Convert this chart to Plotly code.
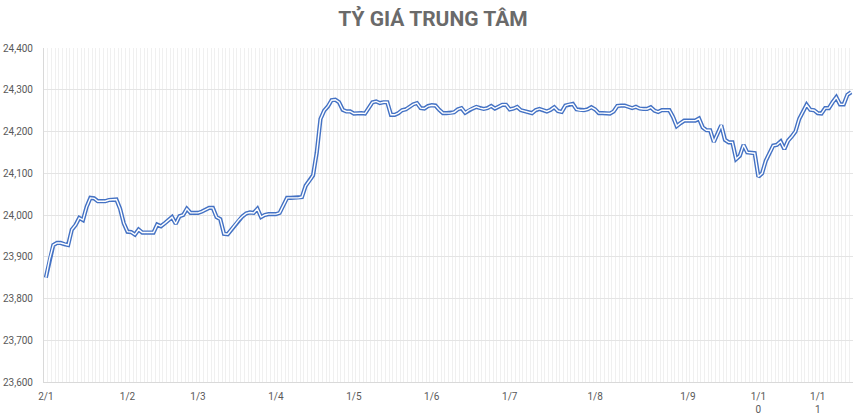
import plotly.graph_objects as go

rates = [
    23850, 23895, 23928, 23933, 23933, 23930, 23928, 23965, 23976, 23993,
    23988, 24020, 24041, 24040, 24033, 24033, 24033, 24036, 24037, 24037,
    24015, 23980, 23960, 23959, 23953, 23965, 23958, 23958, 23958, 23958,
    23977, 23973, 23980, 23988, 23995, 23979, 23997, 24000, 24015, 24005,
    24005, 24005, 24008, 24013, 24017, 24017, 23995, 23990, 23955, 23954,
    23965, 23978, 23988, 23997, 24004, 24006, 24005, 24015, 23995, 24000,
    24002, 24002, 24002, 24005, 24025, 24041, 24041, 24041, 24041, 24043,
    24070, 24082, 24095, 24150, 24230, 24250, 24260, 24275, 24276, 24270,
    24252, 24248, 24248, 24243, 24244, 24244, 24243, 24255, 24270, 24272,
    24268, 24270, 24270, 24240, 24240, 24244, 24251, 24253, 24260, 24265,
    24268, 24256, 24255, 24261, 24263, 24262, 24252, 24244, 24244, 24244,
    24246, 24253, 24256, 24245, 24251, 24255, 24259, 24256, 24254, 24256,
    24261, 24255, 24260, 24264, 24264, 24253, 24255, 24259, 24251, 24249,
    24246, 24244, 24251, 24254, 24251, 24248, 24252, 24258, 24249, 24247,
    24262, 24265, 24266, 24253, 24251, 24251, 24253, 24258, 24253, 24244,
    24244, 24243, 24243, 24248, 24261, 24262, 24262, 24259, 24256, 24259,
    24255, 24254, 24254, 24258, 24250, 24247, 24251, 24251, 24251, 24235,
    24213, 24220, 24226, 24226, 24226, 24226, 24231, 24210, 24203, 24203,
    24175, 24196, 24215, 24180, 24174, 24174, 24134, 24142, 24168, 24150,
    24149, 24148, 24092, 24100, 24130, 24150, 24166, 24168, 24176, 24158,
    24178, 24188, 24200, 24230, 24248, 24264, 24252, 24251, 24244, 24243,
    24256, 24256, 24270, 24282, 24265, 24265, 24288, 24294,
]
day_index = list(range(len(rates)))

tick_index = [0, 22, 41, 62, 83, 104, 125, 148, 173, 192, 208]
tick_labels = ["2/1", "1/2", "1/3", "1/4", "1/5", "1/6", "1/7", "1/8", "1/9",
               "1/1<br>0", "1/1<br>1"]

y_ticks = [23600, 23700, 23800, 23900, 24000, 24100, 24200, 24300, 24400]
y_tick_labels = ["23,600", "23,700", "23,800", "23,900", "24,000", "24,100",
                 "24,200", "24,300", "24,400"]

BLUE = "#4472C4"
GRAY = "#595959"

fig = go.Figure()
fig.add_trace(go.Scatter(x=day_index, y=rates, mode="lines",
                         line=dict(color=BLUE, width=4.2), hoverinfo="skip",
                         showlegend=False))
fig.add_trace(go.Scatter(x=day_index, y=rates, mode="lines",
                         line=dict(color="white", width=1.4),
                         showlegend=False))

fig.update_layout(
    width=866, height=420,
    margin=dict(l=44, r=13, t=48, b=38, autoexpand=False),
    paper_bgcolor="white", plot_bgcolor="white",
    font=dict(family="Roboto", size=10, color=GRAY),
    title=dict(text="<b>TỶ GIÁ TRUNG TÂM</b>", x=0.5, xanchor="center",
               y=0.955, yanchor="middle",
               font=dict(family="Roboto", size=21, color="#6a6a6a")),
    xaxis=dict(
        range=[-0.5, len(rates) - 0.5], tickmode="array",
        tickvals=tick_index, ticktext=tick_labels, showgrid=False,
        showline=True, linecolor="#d9d9d9", linewidth=1, ticks="",
        ticklabelstandoff=5, zeroline=False, automargin=False,
        minor=dict(showgrid=True, tick0=0.5, dtick=1, gridcolor="#f0f0f0",
                   gridwidth=1),
    ),
    yaxis=dict(
        range=[23600, 24400], tickmode="array", tickvals=y_ticks,
        ticktext=y_tick_labels, showgrid=True, gridcolor="#e4e4e4",
        showline=True, linecolor="#d9d9d9", linewidth=1, ticks="",
        ticklabelstandoff=8, zeroline=False, automargin=False,
    ),
)

fig.write_html(
    "out.html",
    config={"displayModeBar": False},
    post_script="document.body.style.margin='0';document.body.style.overflow='hidden';",
)
